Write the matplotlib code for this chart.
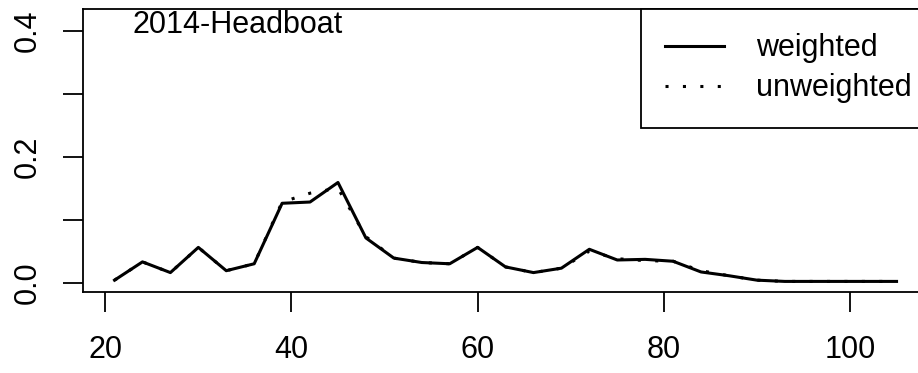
import matplotlib
matplotlib.use("Agg")
import matplotlib.pyplot as plt

plt.rcParams['font.family'] = ['Liberation Sans', 'DejaVu Sans']

# length bins and proportions
lengths = [21, 24, 27, 30, 33, 36, 39, 42, 45, 48, 51, 54, 57, 60, 63,
           66, 69, 72, 75, 78, 81, 84, 87, 90, 93, 96, 99, 102, 105]
weighted = [0.004, 0.033, 0.016, 0.056, 0.019, 0.030, 0.126, 0.128, 0.159,
            0.071, 0.039, 0.032, 0.030, 0.056, 0.025, 0.016, 0.023, 0.053,
            0.036, 0.037, 0.034, 0.017, 0.011, 0.004, 0.002, 0.002, 0.002,
            0.002, 0.002]
unweighted = [0.004, 0.033, 0.016, 0.056, 0.019, 0.030, 0.128, 0.142, 0.150,
              0.073, 0.039, 0.032, 0.030, 0.056, 0.025, 0.016, 0.023, 0.050,
              0.038, 0.035, 0.034, 0.019, 0.011, 0.004, 0.002, 0.002, 0.002,
              0.002, 0.002]
title = "2014-Headboat"
xticks = [20, 40, 60, 80, 100]
yticks = [0.0, 0.1, 0.2, 0.3, 0.4]
ylabels = ["0.0", "", "0.2", "", "0.4"]

fs = 22
fig = plt.figure(figsize=(9.18, 3.73), dpi=100)
ax = fig.add_axes([0.0907, 0.218, 0.920, 0.758])

ax.plot(lengths, weighted, color='black', lw=2.2, label='weighted')
ax.plot(lengths, unweighted, color='black', lw=2.2, dashes=(1, 4.7),
        label='unweighted')

ax.set_xlim(17.64, 108.36)
ax.set_ylim(-0.0143, 0.4344)
ax.set_xticks(xticks)
ax.set_yticks(yticks)
ax.set_yticklabels(ylabels)

for s in ax.spines.values():
    s.set_linewidth(1.3)
ax.tick_params(axis='both', length=14.4, width=1.3, labelsize=fs)
ax.tick_params(axis='x', pad=17)
ax.tick_params(axis='y', pad=15, labelrotation=90)
for lab in ax.get_yticklabels():
    lab.set_va('center')

ax.text(0.0588, 0.914, title, transform=ax.transAxes, fontsize=fs,
        va='baseline', ha='left')

# legend sits in the top right corner, its right side runs off the image
leg = ax.legend(loc='upper right', bbox_to_anchor=(1.0095, 1.0),
                fontsize=fs, borderaxespad=0,
                handlelength=1.93, handletextpad=1.04,
                borderpad=0.8, labelspacing=0.33, fancybox=False,
                framealpha=1)
leg.get_frame().set_edgecolor('black')
leg.get_frame().set_linewidth(1.3)

fig.savefig("out.png", dpi=100)
